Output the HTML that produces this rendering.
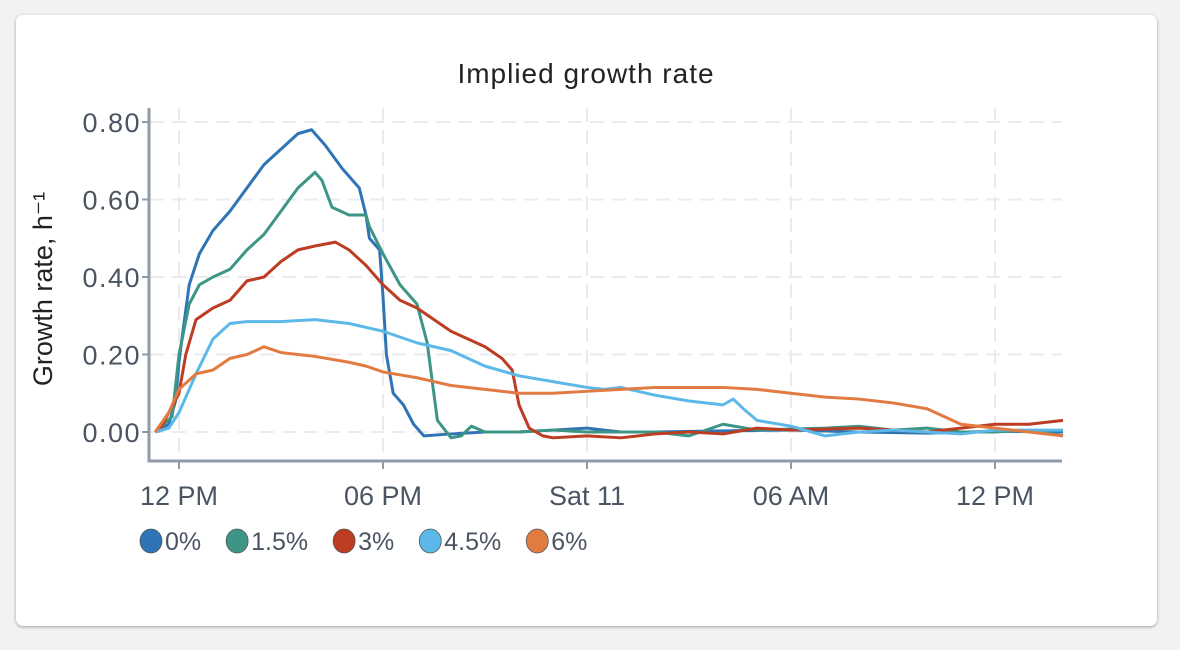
<!DOCTYPE html>
<html><head><meta charset="utf-8"><style>
body{margin:0;background:#f2f2f2;font-family:"Liberation Sans",sans-serif}
#card{position:absolute;left:16px;top:15px;width:1141px;height:611px;background:#fff;border-radius:7px;box-shadow:0 1px 3px rgba(0,0,0,.35)}
</style></head><body>
<div id="card"></div>
<svg id="chart" width="1180" height="650" style="position:absolute;left:0;top:0"></svg>
<script>
const xTickHours=[0,6,12,18,24];
const xTickLabels=["12 PM","06 PM","Sat 11","06 AM","12 PM"];
const yTicks=[0,0.2,0.4,0.6,0.8];
const seriesNames=["0%","1.5%","3%","4.5%","6%"];
const colors=["#2f74b5","#3d9685","#bd3d22","#5bb8e8","#e17b41"];
const t0=[-0.7,-0.3,-0.1,0,0.1,0.3,0.6,1,1.5,2,2.5,3,3.5,3.9,4.3,4.8,5.3,5.5,5.6,5.9,6.0,6.1,6.3,6.6,6.9,7.2,8,9,10,11,12,12.5,13,14,16,18,20,22,24,26];
const v0=[0,0.02,0.08,0.18,0.25,0.38,0.46,0.52,0.57,0.63,0.69,0.73,0.77,0.78,0.74,0.68,0.63,0.56,0.5,0.47,0.35,0.2,0.1,0.07,0.02,-0.01,-0.005,0,0,0.005,0.01,0.005,0,0,0.003,0.005,0,-0.003,0.002,0];
const t1=[-0.7,-0.2,0,0.3,0.6,1,1.5,2,2.5,3,3.5,4,4.2,4.5,5,5.5,5.6,6,6.5,7,7.3,7.6,8,8.3,8.6,9,10,11,12,14,15,16,17,19,20,21,22,23,24,25,26];
const v1=[0,0.04,0.2,0.33,0.38,0.4,0.42,0.47,0.51,0.57,0.63,0.67,0.65,0.58,0.56,0.56,0.53,0.46,0.38,0.33,0.23,0.03,-0.015,-0.01,0.015,0,0,0.005,0,0,-0.01,0.02,0.005,0.01,0.015,0.005,0.01,0,0,0.005,-0.01];
const t2=[-0.6,0,0.2,0.5,1,1.5,2,2.5,3,3.5,4,4.6,5,5.5,6,6.5,7,7.5,8,8.5,9,9.5,9.8,10,10.3,10.7,11,12,13,14,15,16,17,18,20,22,23,24,25,26];
const v2=[0,0.1,0.2,0.29,0.32,0.34,0.39,0.4,0.44,0.47,0.48,0.49,0.47,0.43,0.38,0.34,0.32,0.29,0.26,0.24,0.22,0.19,0.16,0.07,0.01,-0.01,-0.015,-0.01,-0.015,-0.005,0,-0.005,0.01,0.005,0.01,0,0.01,0.02,0.02,0.03];
const t3=[-0.7,-0.3,0,0.5,1,1.5,2,3,4,5,6,7,8,9,10,11,12,12.5,13,14,15,16,16.3,16.6,17,18,19,20,21,22,23,24,25,26];
const v3=[0,0.01,0.05,0.15,0.24,0.28,0.285,0.285,0.29,0.28,0.26,0.23,0.21,0.17,0.145,0.13,0.115,0.11,0.115,0.095,0.08,0.07,0.085,0.06,0.03,0.015,-0.01,0,0.005,0,-0.005,0.005,0.005,0.005];
const t4=[-0.7,-0.3,0,0.5,1,1.5,2,2.5,3,3.5,4,5,5.5,6,7,8,9,10,11,12,13,14,15,16,17,18,19,20,21,22,23,24,25,26];
const v4=[0,0.05,0.11,0.15,0.16,0.19,0.2,0.22,0.205,0.2,0.195,0.18,0.17,0.155,0.14,0.12,0.11,0.1,0.1,0.105,0.11,0.115,0.115,0.115,0.11,0.1,0.09,0.085,0.075,0.06,0.02,0.01,0,-0.01];
const allT=[t0,t1,t2,t3,t4], allV=[v0,v1,v2,v3,v4];

const NS="http://www.w3.org/2000/svg";
const svg=document.getElementById('chart');
const X=h=>179+h*34, Y=v=>432-v*387.5;
function mk(tag,attrs,parent){const e=document.createElementNS(NS,tag);for(const k in attrs)e.setAttribute(k,attrs[k]);(parent||svg).appendChild(e);return e;}
const title=mk('text',{x:586,y:83,'text-anchor':'middle','font-size':28,'letter-spacing':1,fill:'#222'});


title.textContent='Implied growth rate';
yTicks.forEach(v=>{const g=mk('line',{x1:150,x2:1062,y1:Y(v),y2:Y(v),stroke:'#ebebef','stroke-width':2,'stroke-dasharray':'14 8'});


const t=mk('text',{x:141,y:Y(v)+10,'text-anchor':'end','font-size':27,'letter-spacing':1.5,fill:'#4a5463'});


t.textContent=v.toFixed(2);
mk('line',{x1:142,x2:149,y1:Y(v),y2:Y(v),stroke:'#8f9ba8','stroke-width':2});});
xTickHours.forEach((h,i)=>{const g=mk('line',{x1:X(h),x2:X(h),y1:108,y2:460,stroke:'#ebebef','stroke-width':2,'stroke-dasharray':'14 8'});


mk('line',{x1:X(h),x2:X(h),y1:461,y2:469,stroke:'#8f9ba8','stroke-width':2});
const t=mk('text',{x:X(h),y:505,'text-anchor':'middle','font-size':27,fill:'#4a5463'});


t.textContent=xTickLabels[i];});
const ax=mk('path',{d:'M149,108 V461 H1062',fill:'none',stroke:'#8f9ba8','stroke-width':3});


const yt=mk('text',{transform:'translate(52,289) rotate(-90)','text-anchor':'middle','font-size':27,fill:'#222'});


yt.textContent='Growth rate, h⁻¹';
allT.forEach((ts,s)=>{let d='M'+X(ts[0])+','+Y(allV[s][0]);
for(let i=1;i<ts.length;i++){d+=' L'+X(ts[i])+','+Y(allV[s][i]);}
const p=mk('path',{d:d,fill:'none',stroke:colors[s],'stroke-width':3,'stroke-linejoin':'round'});

});
let lx=151;
seriesNames.forEach((n,s)=>{const g=mk('g',{});


mk('ellipse',{cx:lx,cy:541,rx:11,ry:12,fill:colors[s],stroke:'#555','stroke-width':0.8},g);
const t=mk('text',{x:lx+14,y:550,'font-size':25,fill:'#4a5463'},g);t.textContent=n;
lx+=t.getComputedTextLength()+14+36;});
</script>
</body></html>
